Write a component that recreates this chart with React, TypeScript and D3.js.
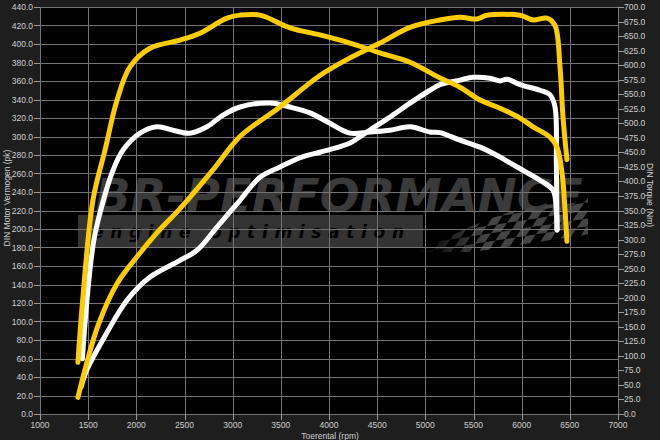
import React from "react";
import * as d3 from "d3";

// ---- data ----
const tunedPowerRpm = [1394, 1467, 1600, 1800, 2007, 2215, 2453, 2796, 3076, 3491, 3906, 4218, 4529, 4841, 5152, 5360, 5536, 5640, 5983, 6118, 6263, 6346, 6398, 6429, 6470];
const tunedPower = [18, 48, 95, 141, 170, 196, 222, 264, 300, 332, 366, 385, 401, 418, 426, 429, 427, 431, 431, 426, 428, 420, 375, 321, 275];

const stockPowerRpm = [1426, 1488, 1695, 1903, 2142, 2453, 2630, 2837, 3076, 3284, 3491, 3699, 3906, 4114, 4218, 4425, 4633, 4841, 5048, 5152, 5360, 5495, 5671, 5775, 5848, 5983, 6190, 6295, 6346, 6360, 6367];
const stockPower = [29, 48, 88, 123, 148, 166, 177, 202, 231, 256, 267, 277, 283, 289, 293, 307, 321, 336, 350, 356, 361, 364, 363, 360, 362, 356, 350, 345, 332, 270, 199];

const tunedTorqueRpm = [1394, 1440, 1550, 1675, 1800, 1934, 2142, 2453, 2660, 2941, 3076, 3284, 3595, 3906, 4218, 4529, 4841, 5152, 5360, 5568, 5775, 5983, 6118, 6295, 6367, 6419, 6450, 6470];
const tunedTorque = [89, 190, 368, 454, 540, 597, 629, 643, 655, 681, 686, 686, 664, 652, 638, 621, 605, 578, 562, 540, 526, 509, 494, 476, 459, 415, 351, 297];

const stockTorqueRpm = [1440, 1490, 1560, 1654, 1760, 1862, 2038, 2215, 2381, 2557, 2733, 2900, 3076, 3388, 3595, 3803, 4010, 4218, 4425, 4633, 4841, 5048, 5152, 5360, 5568, 5775, 5879, 6055, 6190, 6325, 6360, 6367];
const stockTorque = [95, 200, 300, 365, 420, 454, 483, 494, 488, 483, 494, 514, 528, 535, 528, 518, 500, 483, 485, 488, 494, 485, 484, 471, 459, 442, 432, 415, 402, 385, 351, 316];

const rpmTicks = d3.range(1000, 7001, 500);
const powerTicks = d3.range(0, 441, 20);
const torqueTicks = d3.range(0, 701, 25);

const W = 660, H = 440;
const L = 40, R = 618, T = 7, B = 414;

export default function App() {
  const x = d3.scaleLinear().domain([1000, 7000]).range([L, R]);
  const yL = d3.scaleLinear().domain([0, 440]).range([B, T]);
  const yR = d3.scaleLinear().domain([0, 700]).range([B, T]);

  const mk = (xs: number[], ys: number[], y: d3.ScaleLinear<number, number>) =>
    d3.line<number>().x((_, i) => x(xs[i])).y((v) => y(v)).curve(d3.curveCatmullRom.alpha(0.5))(ys) || "";

  const font = "'Liberation Sans', Arial, sans-serif";
  const lab = "#cfcfcf";

  // checker flag cells (decoration)
  const cells: JSX.Element[] = [];
  for (let r = 0; r < 9; r++) {
    for (let c = 0; c < 24; c++) {
      if ((r + c) % 2 === 0) {
        cells.push(<rect key={r + "-" + c} x={c * 9} y={r * 9} width={9} height={9} />);
      }
    }
  }

  return (
    <svg width={W} height={H} style={{ position: "fixed", left: 0, top: 0 }} fontFamily={font}>
      <defs>
        <linearGradient id="fade" x1="0" x2="1" y1="0" y2="0">
          <stop offset="0" stopColor="#000" />
          <stop offset="0.4" stopColor="#fff" />
          <stop offset="1" stopColor="#fff" />
        </linearGradient>
        <mask id="flagMask">
          <rect x={415} y={195} width={180} height={65} fill="url(#fade)" />
        </mask>
        <clipPath id="flagClip">
          <path d="M418,252 C460,232 505,205 560,204 C572,204 580,202 588,198 L588,252 Z" />
        </clipPath>
        <clipPath id="plotClip">
          <rect x={L} y={T} width={R - L} height={B - T} />
        </clipPath>
      </defs>
      <rect x={0} y={0} width={W} height={H} fill="#1e1e1e" />
      <rect x={L} y={T} width={R - L} height={B - T} fill="#000" />

      {/* watermark */}
      <g clipPath="url(#plotClip)">
        <text x={95} y={212} fontSize={46} fontWeight={900} fontStyle="italic" fill="#3a3a3a"
          fontFamily="'DejaVu Sans', sans-serif" textLength={488} lengthAdjust="spacingAndGlyphs">BR-PERFORMANCE</text>
        <rect x={78} y={215} width={345} height={32} fill="#333" />
        <text x={92} y={238} fontSize={17} fontWeight={700} fontStyle="italic" fill="#000"
          fontFamily="'DejaVu Sans', sans-serif" textLength={312} lengthAdjust="spacing">engine optimisation</text>
        <g mask="url(#flagMask)">
          <g clipPath="url(#flagClip)">
            <g transform="translate(410,190) skewX(-40) rotate(-10)" fill="#444">{cells}</g>
          </g>
        </g>
      </g>

      {/* grid */}
      <g stroke="#747474" strokeWidth={1}>
        {rpmTicks.map((t) => (
          <line key={"v" + t} x1={Math.round(x(t)) + 0.5} x2={Math.round(x(t)) + 0.5} y1={T} y2={B} />
        ))}
        {powerTicks.map((t) => (
          <line key={"h" + t} x1={L} x2={R} y1={Math.round(yL(t)) + 0.5} y2={Math.round(yL(t)) + 0.5} />
        ))}
      </g>

      {/* axes ticks */}
      <g stroke="#999" strokeWidth={1}>
        {powerTicks.map((t) => (
          <line key={"lt" + t} x1={34} x2={L} y1={Math.round(yL(t)) + 0.5} y2={Math.round(yL(t)) + 0.5} />
        ))}
        {torqueTicks.map((t) => (
          <line key={"rt" + t} x1={R} x2={R + 6} y1={Math.round(yR(t)) + 0.5} y2={Math.round(yR(t)) + 0.5} />
        ))}
        {rpmTicks.map((t) => (
          <line key={"bt" + t} x1={Math.round(x(t)) + 0.5} x2={Math.round(x(t)) + 0.5} y1={B} y2={B + 6} />
        ))}
      </g>
      <g fontSize={8.5} fill={lab}>
        {powerTicks.map((t) => (
          <text key={"ll" + t} x={33} y={yL(t) + 3} textAnchor="end">{t.toFixed(1)}</text>
        ))}
        {torqueTicks.map((t) => (
          <text key={"rl" + t} x={R + 6} y={yR(t) + 3}>{t.toFixed(1)}</text>
        ))}
        {rpmTicks.map((t) => (
          <text key={"bl" + t} x={x(t)} y={428} textAnchor="middle">{t}</text>
        ))}
        <text transform="translate(10,198) rotate(-90)" textAnchor="middle">DIN Motor Vermogen (pk)</text>
        <text transform="translate(647,195) rotate(90)" textAnchor="middle">DIN Torque (Nm)</text>
        <text x={330} y={439} textAnchor="middle">Toerental (rpm)</text>
      </g>

      {/* curves */}
      <g fill="none" strokeWidth={5} strokeLinecap="round" strokeLinejoin="round">
        <path d={mk(stockPowerRpm, stockPower, yL)} stroke="#ffffff" />
        <path d={mk(stockTorqueRpm, stockTorque, yR)} stroke="#ffffff" />
        <path d={mk(tunedPowerRpm, tunedPower, yL)} stroke="#ffcc00" />
        <path d={mk(tunedTorqueRpm, tunedTorque, yR)} stroke="#ffcc00" />
      </g>
    </svg>
  );
}
